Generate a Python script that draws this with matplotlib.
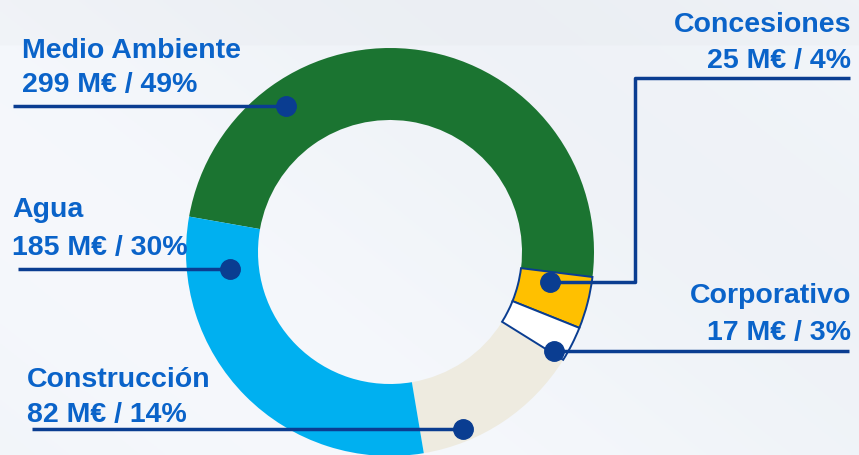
import matplotlib
matplotlib.use("Agg")
import matplotlib.pyplot as plt
import numpy as np

# ---- data ----
segments = ["Medio Ambiente", "Concesiones", "Corporativo", "Construcción", "Agua"]
values = [299, 25, 17, 82, 185]
value_labels = ["299 M€ / 49%", "25 M€ / 4%", "17 M€ / 3%", "82 M€ / 14%", "185 M€ / 30%"]
colors = ["#1b7431", "#ffc000", "#ffffff", "#eeebe0", "#00b0f0"]
outlined = [False, True, True, False, False]

W, H = 859, 455
fig = plt.figure(figsize=(W / 100, H / 100), dpi=100)
ax = fig.add_axes([0, 0, 1, 1])
ax.set_xlim(0, W)
ax.set_ylim(0, H)
ax.set_aspect("equal")
ax.axis("off")

# background gradient
yy = np.linspace(0, 1, 200)[:, None]
xx = np.linspace(0, 1, 300)[None, :]
base = np.array([0.937, 0.951, 0.970])
light = np.array([0.962, 0.972, 0.988])
t = np.clip(0.5 + 0.5 * np.sin((xx * 3 + yy * 2) * 1.3), 0, 1)[..., None]
img = base * (1 - t) + light * t
img[-20:, :, :] = img[-20:, :, :] * 0.985
ax.imshow(img, extent=[0, W, 0, H], origin="lower", aspect="auto", zorder=0)

def py(y):
    return H - y

cx, cy, R, ring = 390, py(252), 204, 72
wedges, _ = ax.pie(values, colors=colors, startangle=170, counterclock=False,
                   radius=R, center=(cx, cy),
                   wedgeprops=dict(width=ring, linewidth=0), frame=True)
for w, o in zip(wedges, outlined):
    w.set_zorder(2)
    if o:
        w.set_edgecolor("#0a3d91")
        w.set_linewidth(1.4)
        w.set_zorder(3)
ax.set_xlim(0, W)
ax.set_ylim(0, H)
ax.axis("off")

txt_color = "#0a63c9"
line_color = "#0a3d91"
fs = 20.5
fam = ["Liberation Sans", "DejaVu Sans"]

# label layout: (name baseline, value baseline, x, ha)
layout = {
    "Medio Ambiente": (58, 92, 22, "left"),
    "Concesiones": (32, 68, 851, "right"),
    "Corporativo": (303, 340, 851, "right"),
    "Construcción": (387, 422, 27, "left"),
    "Agua": (217, 255, 12, "left"),
}
leader = {
    "Medio Ambiente": [(13, 106), (286, 106)],
    "Concesiones": [(850, 78), (635, 78), (635, 282), (550, 282)],
    "Corporativo": [(849, 351), (554, 351)],
    "Construcción": [(32, 429), (463, 429)],
    "Agua": [(18, 269), (230, 269)],
}

for name, vl in zip(segments, value_labels):
    y1, y2, x, ha = layout[name]
    ax.text(x, py(y1), name, ha=ha, va="baseline", fontsize=fs, fontweight="bold",
            color=txt_color, family=fam, zorder=5)
    ax.text(x, py(y2), vl, ha=ha, va="baseline", fontsize=fs, fontweight="bold",
            color=txt_color, family=fam, zorder=5)
    pts = leader[name]
    xs = [p[0] for p in pts]
    ys = [py(p[1]) for p in pts]
    ax.plot(xs, ys, color=line_color, lw=2.5, solid_capstyle="butt", zorder=6)
    ax.plot(xs[-1], ys[-1], "o", ms=14, color=line_color, zorder=7)

fig.savefig("out.png", dpi=100)
